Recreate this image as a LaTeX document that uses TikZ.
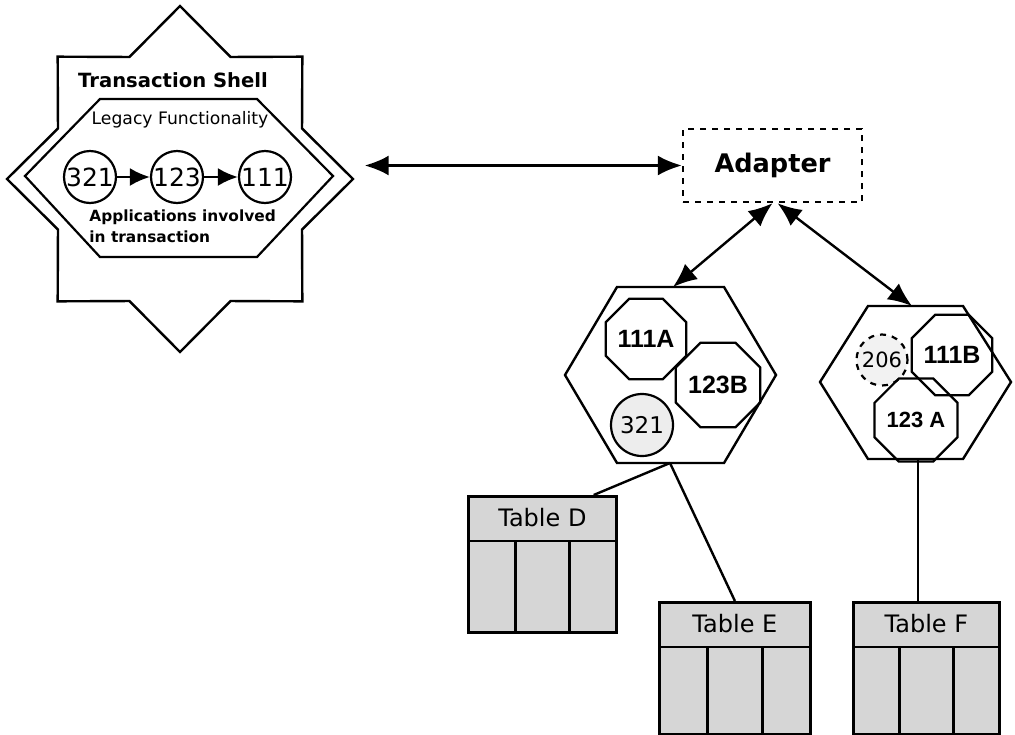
\documentclass[tikz,border=0pt]{standalone}
\usepackage{fontspec}
\setmainfont{DejaVu Sans}
\newfontfamily\arialfont{Liberation Sans}
\usetikzlibrary{shapes.geometric,arrows.meta,calc}

\tikzset{
  link/.style={line width=1.2pt},
  tip/.style={-{Latex[length=10pt,width=9pt]}},
  dbltip/.style={{Latex[length=12pt,width=10pt]}-{Latex[length=12pt,width=10pt]}},
  app/.style={circle,draw,line width=1.1pt,minimum size=26pt,inner sep=0pt,font=\fontsize{12.5}{14}\selectfont},
  octo/.style={regular polygon,regular polygon sides=8,draw,line width=1.1pt,minimum size=40pt,inner sep=0pt,font=\arialfont\bfseries\fontsize{12.5}{14}\selectfont},
  tablebox/.style={rectangle,draw,line width=1.4pt,fill=black!16,anchor=north west,inner sep=0pt}
}

\begin{document}
\begin{tikzpicture}[x=0.5pt,y=-0.5pt]
  \useasboundingbox (0,0) rectangle (1015,734);

  % transaction shell
  \node[star,star points=8,star point ratio=1.31,minimum size=173pt,draw,line width=1.2pt,inner sep=0pt] (shell) at (180,179) {};
  \draw[line width=1.1pt] (100,99) -- (257,99) -- (333,176) -- (257,257) -- (100,257) -- (25,176) -- cycle;
  \node[font=\bfseries\fontsize{9.8}{12}\selectfont] (title) at (173,80) {Transaction Shell};
  \node[font=\fontsize{8.6}{10}\selectfont] (legacy) at (180,120) {Legacy Functionality};
  \node[app] (a321) at (90,177) {321};
  \node[app] (a123) at (177,177) {123};
  \node[app] (a111) at (265,177) {111};
  \draw[link,tip] (a321) -- (a123);
  \draw[link,tip] (a123) -- (a111);
  \node[anchor=west,align=left,inner sep=0pt,font=\bfseries\fontsize{7.7}{10.5}\selectfont] (apps) at (89,226) {Applications involved\\in transaction};

  % adapter
  \node[draw,dashed,line width=1.2pt,minimum width=89.5pt,minimum height=36.5pt,font=\bfseries\fontsize{12.8}{15}\selectfont] (adapter) at (772.5,165.5) {Adapter};
  \draw[link,dbltip,shorten <=5pt] (adapter.west -| shell.east) -- (adapter.west);

  % left component
  \draw[line width=1.2pt] (617,287) -- (724,287) -- (776,375) -- (724,463) -- (617,463) -- (565,375) -- cycle;
  \coordinate (hexAtop) at (673,287);
  \coordinate (hexAbot) at (670,463);
  \node[octo] (o111A) at (646,339) {111A};
  \node[octo] (o123B) at (718,385) {123B};
  \node[app,fill=black!7,minimum size=31pt,font=\fontsize{11.5}{12}\selectfont] (c321) at (642,425) {321};

  % right component
  \draw[line width=1.2pt] (868,306) -- (963,306) -- (1011,382) -- (963,459) -- (868,459) -- (820,382) -- cycle;
  \coordinate (hexBtop) at (912,306);
  \coordinate (hexBbot) at (918,459);
  \node[app,dashed,fill=black!5,minimum size=25.5pt,font=\fontsize{10.5}{12}\selectfont] (c206) at (882,360) {206};
  \node[octo,minimum size=35pt] (o111B) at (952,355) {111B};
  \node[octo,minimum size=36pt,font=\arialfont\bfseries\fontsize{11}{12}\selectfont] (o123A) at (916,420) {123 A};

  \draw[link,dbltip] (adapter.south) -- (hexAtop);
  \draw[link,dbltip] ([xshift=2.5pt]adapter.south) -- (hexBtop);

  % tables
  \foreach \name/\x/\y/\w/\h in {D/467/495/148/136, E/658/601/151/132, F/852/601/146/132} {
    \node[tablebox,minimum width=\w*0.5pt,minimum height=\h*0.5pt] (tab\name) at (\x,\y) {};
    \draw[line width=1.4pt] ($(tab\name.north west)+(0,46)$) -- ($(tab\name.north east)+(0,46)$);
    \draw[line width=1.4pt] ($(tab\name.north west)!0.32!(tab\name.north east)+(0,46)$) -- ($(tab\name.south west)!0.32!(tab\name.south east)$);
    \draw[line width=1.4pt] ($(tab\name.north west)!0.68!(tab\name.north east)+(0,46)$) -- ($(tab\name.south west)!0.68!(tab\name.south east)$);
    \node[font=\fontsize{12}{14}\selectfont] (lbl\name) at ($(tab\name.north)+(0,23)$) {Table \name};
  }

  \draw[link] (hexAbot) -- ($(tabD.north west)!0.84!(tabD.north east)$);
  \draw[link] (hexAbot) -- (tabE.north);
  \draw[link] (hexBbot) -- (hexBbot |- tabF.north);
\end{tikzpicture}
\end{document}
